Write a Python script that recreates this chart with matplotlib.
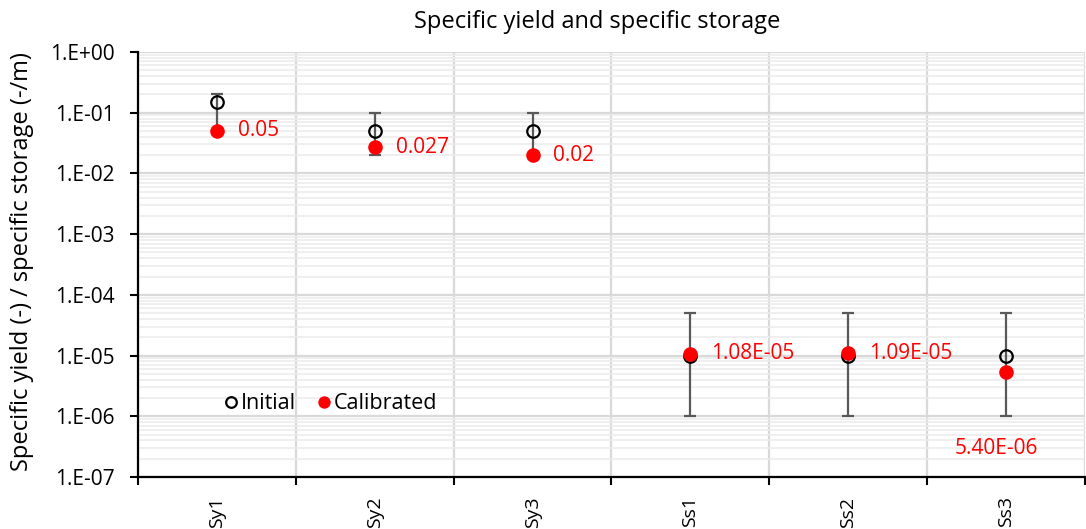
import matplotlib
matplotlib.use("Agg")
import matplotlib.pyplot as plt
import numpy as np
from matplotlib.ticker import FixedLocator, NullFormatter, FuncFormatter, LogLocator

plt.rcParams['font.family'] = ['Open Sans', 'DejaVu Sans']

categories = ['Sy1', 'Sy2', 'Sy3', 'Ss1', 'Ss2', 'Ss3']
initial = [0.15, 0.05, 0.05, 1e-5, 1e-5, 1e-5]
range_low = [0.05, 0.02, 0.02, 1e-6, 1e-6, 1e-6]
range_high = [0.2, 0.1, 0.1, 5e-5, 5e-5, 5e-5]
calibrated = [0.05, 0.027, 0.02, 1.08e-5, 1.09e-5, 5.4e-6]
value_labels = ['0.05', '0.027', '0.02', '1.08E-05', '1.09E-05', '5.40E-06']

W, H = 1086, 529
fig = plt.figure(figsize=(W / 100, H / 100), dpi=100)
ax = fig.add_axes([138 / W, 1 - 477 / H, (1085 - 138) / W, (477 - 52) / H])

x = np.arange(len(categories))
init = np.array(initial)
yerr = np.vstack([init - np.array(range_low), np.array(range_high) - init])

ax.set_yscale('log')
ax.set_ylim(1e-7, 1)
ax.set_xlim(-0.5, len(categories) - 0.5)

# grid: faint minor lines, light major lines, vertical lines at category borders
ax.yaxis.set_minor_locator(LogLocator(base=10, subs=np.arange(2, 10), numticks=20))
ax.yaxis.set_minor_formatter(NullFormatter())
ax.grid(which='minor', axis='y', color='#ececec', linewidth=1.2, zorder=0)
ax.grid(which='major', axis='y', color='#d9d9d9', linewidth=1.6, zorder=0)
ax.xaxis.set_major_locator(FixedLocator(np.arange(len(categories) + 1) - 0.5))
ax.xaxis.set_major_formatter(NullFormatter())
ax.xaxis.set_minor_locator(FixedLocator(x))
ax.set_xticklabels(categories, minor=True, rotation=90, fontsize=14)
ax.grid(which='major', axis='x', color='#d9d9d9', linewidth=1.6, zorder=0)
ax.tick_params(axis='x', which='minor', length=0, pad=14)
ax.tick_params(axis='x', which='major', length=6, width=1.5, direction='out')
ax.tick_params(axis='y', which='major', length=6, width=1.5, labelsize=15, pad=11)
ax.tick_params(axis='y', which='minor', length=0)
ax.set_axisbelow(True)

ax.yaxis.set_major_locator(FixedLocator([10.0 ** k for k in range(-7, 1)]))
ax.yaxis.set_major_formatter(FuncFormatter(
    lambda v, p: '1.E{:+03d}'.format(int(round(np.log10(v))))))

for s in ['top', 'right']:
    ax.spines[s].set_visible(False)
for s in ['left', 'bottom']:
    ax.spines[s].set_linewidth(1.6)
    ax.spines[s].set_color('black')

ax.errorbar(x, init, yerr=yerr, fmt='none', ecolor='#595959', elinewidth=1.6,
            capsize=4.5, capthick=1.6, zorder=2)
ax.plot(x, init, linestyle='none', marker='o', markersize=9, markerfacecolor='none',
        markeredgecolor='black', markeredgewidth=1.6, zorder=3, label='Initial')
ax.plot(x, calibrated, linestyle='none', marker='o', markersize=10.5, color='red',
        markeredgewidth=0, zorder=4, label='Calibrated')

for i, (v, txt) in enumerate(zip(calibrated, value_labels)):
    if i == len(categories) - 1:
        ax.annotate(txt, (x[i], v), xytext=(-7, -55), textcoords='offset points',
                    ha='center', va='center', color='red', fontsize=15)
    else:
        ax.annotate(txt, (x[i], v), xytext=(15, 0), textcoords='offset points',
                    ha='left', va='center', color='red', fontsize=15)

leg = ax.legend(loc='center left', bbox_to_anchor=(0.071, 0.172), ncol=2, frameon=False,
                fontsize=15.5, handlelength=0.6, handletextpad=0.15, columnspacing=1.0,
                markerscale=0.85)

fig.text(22 / W, 1 - 262 / H, 'Specific yield (-) / specific storage (-/m)',
         rotation=90, ha='center', va='center', fontsize=17)
fig.text(597 / W, 1 - 22 / H, 'Specific yield and specific storage',
         ha='center', va='center', fontsize=17)

fig.savefig('out.png', dpi=100)
